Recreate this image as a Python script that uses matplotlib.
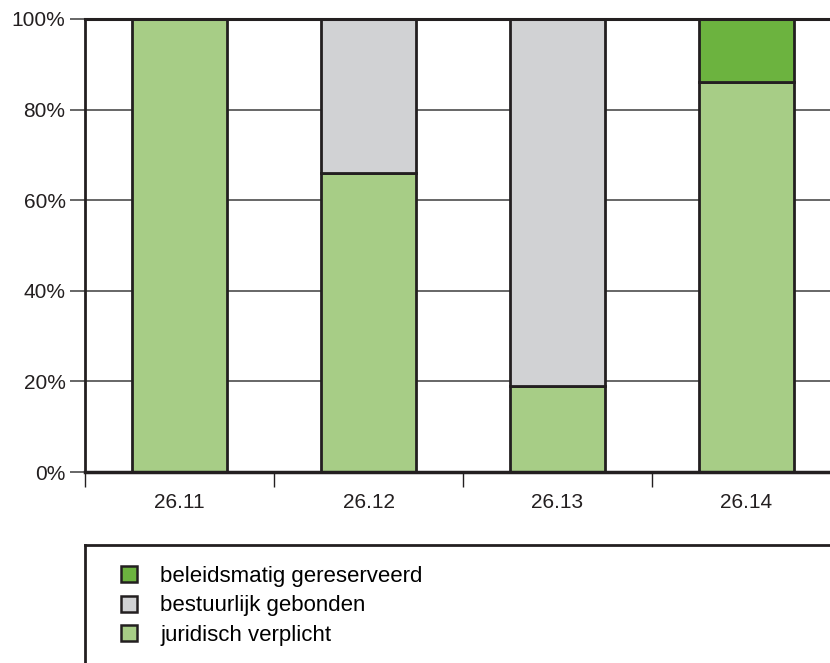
import numpy as np
import matplotlib.pyplot as plt
from matplotlib.lines import Line2D
from matplotlib.patches import Patch

plt.rcParams['font.family'] = ['Liberation Sans', 'DejaVu Sans']

categories = ["26.11", "26.12", "26.13", "26.14"]
juridisch = [100, 66, 19, 86]
bestuurlijk = [0, 34, 81, 0]
beleidsmatig = [0, 0, 0, 14]

c_jur = "#a7cd86"
c_bes = "#d1d2d4"
c_bel = "#6cb33f"
edge = "#231f20"

fig = plt.figure(figsize=(8.3, 6.63), dpi=100)
ax = fig.add_axes([85 / 830, 1 - 472 / 663, 1 - 85 / 830, (472 - 19) / 663])

x = np.arange(len(categories))
w = 0.5
jur = np.array(juridisch)
bes = np.array(bestuurlijk)
bel = np.array(beleidsmatig)

for i in range(len(categories)):
    bottom = 0
    for vals, col in [(jur, c_jur), (bes, c_bes), (bel, c_bel)]:
        if vals[i] > 0:
            ax.bar(x[i], vals[i], w, bottom=bottom, color=col, edgecolor=edge,
                   linewidth=2, zorder=3)
            bottom += vals[i]

ax.set_xlim(-0.5, (830 - 85) / 189 - 0.5)
ax.set_ylim(0, 100)

# grid
for v in [20, 40, 60, 80]:
    ax.axhline(v, color="#5a5a5a", lw=1.3, zorder=1)
ax.axhline(100, color=edge, lw=2.2, zorder=4, clip_on=False)

for s in ["top", "right"]:
    ax.spines[s].set_visible(False)
ax.spines["left"].set_color(edge)
ax.spines["left"].set_linewidth(2)
ax.spines["bottom"].set_color(edge)
ax.spines["bottom"].set_linewidth(2.5)
ax.spines["bottom"].set_zorder(5)

ax.set_yticks([0, 20, 40, 60, 80, 100])
ax.set_yticklabels(["0%", "20%", "40%", "60%", "80%", "100%"], fontsize=15, color="#231f20")
ax.tick_params(axis="y", length=11, width=1.3, color="#5a5a5a", pad=3)

ax.set_xticks(x)
ax.set_xticklabels(categories, fontsize=15, color="#231f20")
ax.tick_params(axis="x", which="major", length=0, pad=15)
ax.set_xticks(np.arange(-0.5, 3.5, 1.0), minor=True)
ax.tick_params(axis="x", which="minor", length=11, width=1, color=edge)

# legend box
fig.add_artist(Line2D([85 / 830, 85 / 830], [0, 1 - 545 / 663], color=edge, lw=2))
fig.add_artist(Line2D([85 / 830, 1], [1 - 545 / 663, 1 - 545 / 663], color=edge, lw=2))

handles = [Patch(facecolor=c_bel, edgecolor=edge, lw=1.8),
           Patch(facecolor=c_bes, edgecolor=edge, lw=1.8),
           Patch(facecolor=c_jur, edgecolor=edge, lw=1.8)]
labels = ["beleidsmatig gereserveerd", "bestuurlijk gebonden", "juridisch verplicht"]
fig.legend(handles, labels, loc="upper left", bbox_to_anchor=(121 / 830, 1 - 566 / 663),
           frameon=False, fontsize=16, handlelength=0.72, handleheight=0.72,
           handletextpad=1.05, labelspacing=0.38, borderaxespad=0, borderpad=0)

fig.savefig("out.png", dpi=100)
